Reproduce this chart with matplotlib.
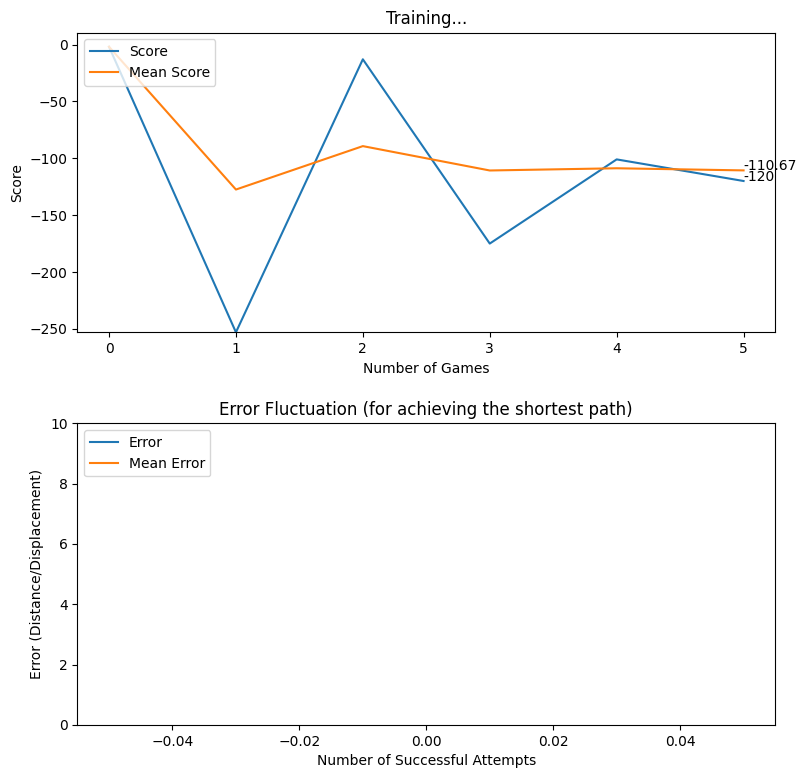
import matplotlib
matplotlib.use("Agg")
import matplotlib.pyplot as plt

games = [0, 1, 2, 3, 4, 5]
scores = [-2, -253, -13, -175, -101, -120]
mean_scores = [-2, -127.5, -89.33, -110.75, -108.8, -110.67]

errors = []
mean_errors = []

W, H = 806, 778
fig = plt.figure(figsize=(W / 100, H / 100), dpi=100)

ax1 = fig.add_axes([77.3 / W, 1 - 332.3 / H, 698 / W, 299.8 / H])
ax1.set_title('Training...')
ax1.set_xlabel('Number of Games')
ax1.set_ylabel('Score')
ax1.plot(games, scores, label='Score')
ax1.plot(games, mean_scores, label='Mean Score')
ax1.set_ylim(bottom=min(scores))
ax1.text(games[-1], scores[-1], str(scores[-1]))
ax1.text(games[-1], mean_scores[-1], str(mean_scores[-1]))
ax1.legend(loc='upper left')

ax2 = fig.add_axes([77.3 / W, 1 - 725 / H, 698 / W, 301.7 / H])
ax2.set_title('Error Fluctuation (for achieving the shortest path)')
ax2.set_xlabel('Number of Successful Attempts')
ax2.set_ylabel('Error (Distance/Displacement)')
ax2.plot(errors, label='Error')
ax2.plot(mean_errors, label='Mean Error')
ax2.set_ylim(0, 10)
ax2.legend(loc='upper left')

fig.savefig('out.png', dpi=100)
